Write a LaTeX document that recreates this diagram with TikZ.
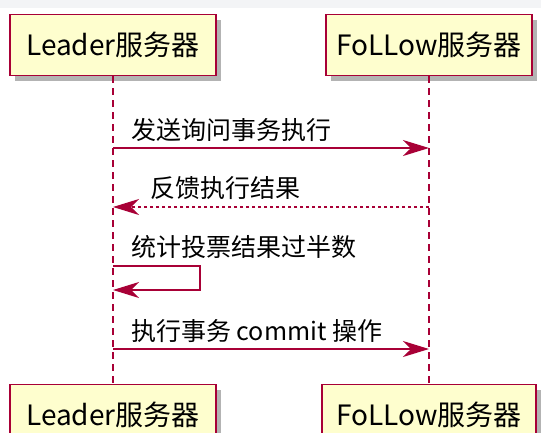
\documentclass[tikz,border=0pt]{standalone}
\usepackage{fontspec}
\newfontfamily\cjk{Noto Sans CJK SC}
\usepackage{xcolor}
\definecolor{umlred}{HTML}{A80036}
\definecolor{umlfill}{HTML}{FEFECE}
\definecolor{topstrip}{HTML}{F3F4F6}
\usepackage{tikz}
\usetikzlibrary{arrows.meta, positioning, shadows}

\begin{document}
\begin{tikzpicture}[x=1pt, y=-1pt,
  actor/.style={rectangle, draw=umlred, line width=1.6pt, fill=umlfill,
    minimum width=206pt, minimum height=61pt, inner sep=0pt,
    font=\cjk\fontsize{28}{30}\selectfont,
    drop shadow={shadow xshift=5pt, shadow yshift=-5pt, fill=gray!80, opacity=0.75}},
  lifeline/.style={draw=umlred, line width=1.3pt, dash pattern=on 7pt off 5pt},
  msg/.style={-{Stealth[length=26pt, width=16pt, inset=8pt]}, draw=umlred, line width=1.4pt},
  reply/.style={msg, dash pattern=on 3pt off 3pt},
  msgtext/.style={anchor=west, inner sep=0pt, font=\cjk\fontsize{25}{27}\selectfont}
]
\useasboundingbox (0,0) rectangle (541,432);
\clip (0,0) rectangle (541,432);
\fill[topstrip] (0,0) rectangle (541,8);

% participants
\node[actor] (lead) at (113,45) {Leader服务器};
\node[actor] (foll) at (429,45) {FoLLow服务器};
\node[actor] (leadb) at (113,415) {Leader服务器};
\node[actor, minimum width=214pt] (follb) at (429,415) {FoLLow服务器};

\draw[lifeline] (lead) -- (leadb);
\draw[lifeline] (foll) -- (follb);

% message points on the lifelines
\coordinate (l1) at (113,148);
\coordinate (f1) at (429,148);
\coordinate (l2) at (113,207);
\coordinate (f2) at (429,207);
\coordinate (l3) at (113,266);
\coordinate (r3) at (200,266);
\coordinate (s3) at (200,290);
\coordinate (e3) at (113,290);
\coordinate (l4) at (113,349);
\coordinate (f4) at (429,349);

\node[msgtext] (t1) at (131,130) {发送询问事务执行};
\draw[msg] (l1) -- (f1);

\node[msgtext] (t2) at (150,188) {反馈执行结果};
\draw[reply] (f2) -- (l2);

\node[msgtext] (t3) at (131,247) {统计投票结果过半数};
\draw[msg] (l3) -- (r3) -- (s3) -- (e3);

\node[msgtext] (t4) at (131,331) {执行事务 commit 操作};
\draw[msg] (l4) -- (f4);
\end{tikzpicture}
\end{document}
